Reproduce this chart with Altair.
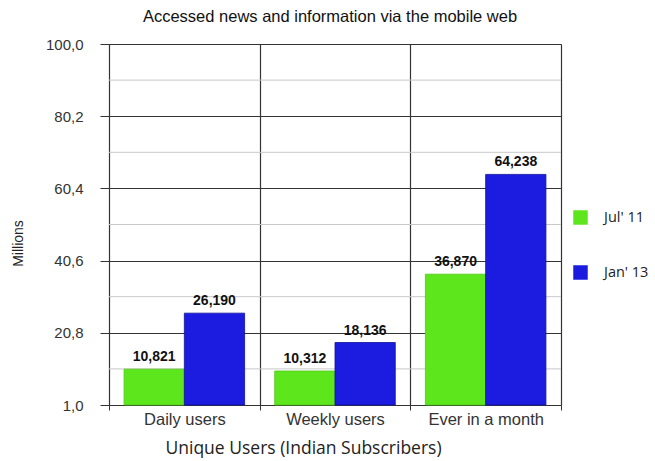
import altair as alt
import pandas as pd

categories = ["Daily users", "Weekly users", "Ever in a month"]
series = ["Jul' 11", "Jan' 13"]
jul11 = [10.821, 10.312, 36.870]
jan13 = [26.190, 18.136, 64.238]
y_ticks = [1.0, 20.8, 40.6, 60.4, 80.2, 100.0]
minor_ticks = [10.9, 30.7, 50.5, 70.3, 90.1]
colors = ["#5ee61c", "#1c1ce0"]
strokes = ["#4fc818", "#10109a"]

rows = []
for c, a, b in zip(categories, jul11, jan13):
    rows.append({"cat": c, "series": series[0], "value": a, "base": y_ticks[0]})
    rows.append({"cat": c, "series": series[1], "value": b, "base": y_ticks[0]})
df = pd.DataFrame(rows)
minor_df = pd.DataFrame({"v": minor_ticks})

yscale = alt.Scale(domain=[y_ticks[0], y_ticks[-1]], nice=False, zero=False)

x = alt.X(
    "cat:N",
    sort=categories,
    scale=alt.Scale(paddingInner=0, paddingOuter=0),
    axis=alt.Axis(
        title="Unique Users (Indian Subscribers)",
        titleFont="Open Sans",
        titleFontSize=17.5,
        titleFontWeight="normal",
        titleColor="#222",
        titleAnchor="start",
        titleX=56,
        titleY=34,
        labelAngle=0,
        labelFont="Liberation Sans",
        labelFontSize=16.5,
        labelColor="#333",
        labelPadding=1,
        tickBand="extent",
        ticks=True,
        tickSize=5,
        tickColor="#333",
        grid=True,
        gridColor="#333",
        gridWidth=1.2,
        domain=False,
    ),
)

minor = alt.Chart(minor_df).mark_rule(color="#c8c8c8", strokeWidth=1).encode(
    y=alt.Y("v:Q", scale=yscale)
)

bars = alt.Chart(df).mark_bar(strokeWidth=0.8).encode(
    x=x,
    xOffset=alt.XOffset("series:N", sort=series, scale=alt.Scale(paddingInner=0, paddingOuter=0.25)),
    y=alt.Y(
        "value:Q",
        scale=yscale,
        axis=alt.Axis(
            values=y_ticks,
            labelExpr="replace(format(datum.value, '.1f'), '.', ',')",
            title="Millions",
            titleFont="Liberation Sans",
            titleFontSize=14,
            titleFontWeight="normal",
            titleColor="#222",
            titleX=-84,
            titleY=199,
            labelFont="Liberation Sans",
            labelFontSize=15,
            labelColor="#333",
            labelPadding=17,
            tickSize=9,
            tickColor="#333",
            grid=True,
            gridColor="#333",
            gridWidth=1.2,
            domainColor="#333",
        ),
    ),
    y2="base:Q",
    color=alt.Color(
        "series:N",
        sort=series,
        scale=alt.Scale(domain=series, range=colors),
        legend=alt.Legend(
            title=None,
            orient="none",
            legendX=464,
            legendY=166,
            symbolType="square",
            symbolSize=210,
            symbolStrokeWidth=0,
            rowPadding=39,
            labelOffset=16,
            labelFont="Open Sans",
            labelFontSize=14.5,
            labelColor="#222",
        ),
    ),
    stroke=alt.Stroke("series:N", sort=series, scale=alt.Scale(domain=series, range=strokes), legend=None),
)

labels = alt.Chart(df).transform_calculate(
    lab="replace(format(datum.value, '.3f'), '.', ',')"
).mark_text(
    baseline="bottom", dy=-5, font="Liberation Sans", fontSize=14, fontWeight="bold", color="#111"
).encode(
    x=x,
    xOffset=alt.XOffset("series:N", sort=series, scale=alt.Scale(paddingInner=0, paddingOuter=0.25)),
    y=alt.Y("value:Q", scale=yscale),
    text=alt.Text("lab:N"),
)

chart = (
    alt.layer(minor, bars, labels)
    .properties(
        width=452,
        height=361,
        autosize=alt.AutoSizeParams(type="none"),
        padding={"left": 109, "top": 44, "right": 94, "bottom": 56},
        title=alt.TitleParams(
            "Accessed news and information via the mobile web",
            font="Liberation Sans",
            fontSize=16.5,
            fontWeight="normal",
            color="#111",
            anchor="middle",
            dx=-5,
            offset=12,
        ),
    )
    .configure_view(stroke="#333", strokeWidth=1.2)
    .configure(background="white")
)

chart.save("out.html", embed_options={"renderer": "svg", "actions": False})
